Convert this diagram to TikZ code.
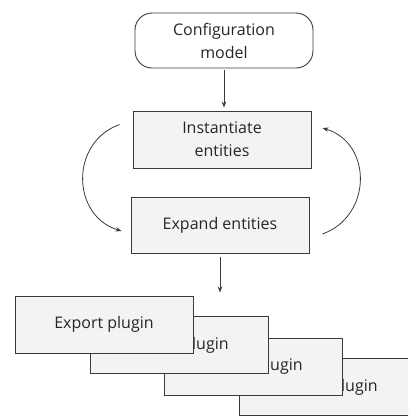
\documentclass[tikz,border=0pt]{standalone}
\usepackage{fontspec}
\setmainfont{Open Sans}
\usetikzlibrary{arrows.meta,calc}
\definecolor{boxfill}{HTML}{F2F3F2}
\definecolor{edge}{HTML}{3A3A3A}
\tikzset{
  stagebox/.style={draw=edge, line width=0.9pt, fill=boxfill,
    minimum width=178pt, minimum height=57pt, inner sep=0pt,
    align=center, font=\fontsize{16}{23}\selectfont, text=black!85},
  startbox/.style={stagebox, fill=white, rounded corners=17pt, minimum height=55pt},
  flow/.style={draw=edge, line width=0.8pt, -{Stealth[length=6pt,width=4.5pt]}},
}
\begin{document}
\begin{tikzpicture}[x=1pt,y=-1pt]
\useasboundingbox (0,0) rectangle (408,416);
\clip (0,0) rectangle (408,416);

% pipeline stages
\node[startbox] (config) at (224,40.5) {Configuration\\model};
\node[stagebox] (inst) at (222,139.5) {Instantiate\\entities};
\node[stagebox, minimum height=56pt] (expand) at (220,225) {Expand entities};

% stacked plugin cards, back to front
\node[stagebox] (p4) at (328,387) {Export plugin};
\node[stagebox] (p3) at (253,366.5) {Export plugin};
\node[stagebox] (p2) at (179,345) {Export plugin};
\node[stagebox] (p1) at (104,324.5) {Export plugin};

% straight flow
\draw[flow, shorten <=2pt, shorten >=3pt] (config.south) -- (config.south |- inst.north);
\draw[flow, shorten <=4pt, shorten >=3pt] (expand.south) -- (expand.south |- p1.north);

% iteration loop between the two stages
\coordinate (la) at ($(inst.west)+(-13,-15)$);
\coordinate (lb) at ($(expand.west)+(-9,6)$);
\coordinate (ra) at ($(expand.east)+(13,9)$);
\coordinate (rb) at ($(inst.east)+(11,-11.5)$);
\draw[flow] (la) .. controls ($(la)+(-50,18)$) and ($(lb)+(-50,-15)$) .. (lb);
\draw[flow] (ra) .. controls ($(ra)+(50,-18)$) and ($(rb)+(50,15)$) .. (rb);
\end{tikzpicture}
\end{document}
